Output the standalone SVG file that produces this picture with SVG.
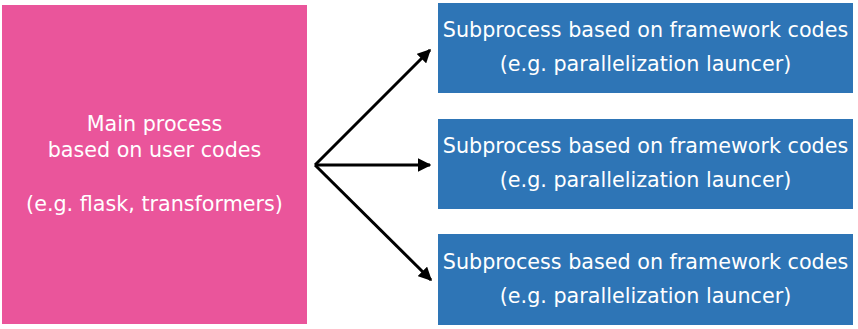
<svg xmlns="http://www.w3.org/2000/svg" width="858" height="329" viewBox="0 0 858 329">
<defs>
<style>
.main{fill:#EA559B}
.sub{fill:#2E75B6}
text{font-family:"DejaVu Sans","Open Sans",sans-serif;font-size:20.7px;fill:#FFFFFF;text-anchor:middle}
.conn{stroke:#000000;stroke-width:3;fill:none}
</style>
<marker id="arr" viewBox="0 0 10 10" refX="9" refY="5" markerWidth="4.5" markerHeight="4.5" markerUnits="strokeWidth" orient="auto">
<path d="M0,0 L10,5 L0,10 z" fill="#000000"/>
</marker>
</defs>
<rect width="858" height="329" fill="#FFFFFF"/>
<g id="main">
<rect class="main" x="2" y="5" width="305" height="319"/>
<text x="154.5" y="131">Main process</text>
<text x="154.5" y="157">based on user codes</text>
<text x="154.5" y="211">(e.g. flask, transformers)</text>
</g>
<g id="sub1">
<rect class="sub" x="438" y="3" width="415" height="90"/>
<text x="645.5" y="37">Subprocess based on framework codes</text>
<text x="645.5" y="71">(e.g. parallelization launcer)</text>
</g>
<g id="sub2">
<rect class="sub" x="438" y="119" width="415" height="90"/>
<text x="645.5" y="153">Subprocess based on framework codes</text>
<text x="645.5" y="187">(e.g. parallelization launcer)</text>
</g>
<g id="sub3">
<rect class="sub" x="438" y="234" width="415" height="91"/>
<text x="645.5" y="269">Subprocess based on framework codes</text>
<text x="645.5" y="303">(e.g. parallelization launcer)</text>
</g>
<g id="connectors">
<path class="conn" d="M315,165 L430,50" marker-end="url(#arr)"/>
<path class="conn" d="M315,165 L430,165" marker-end="url(#arr)"/>
<path class="conn" d="M315,165 L431,280" marker-end="url(#arr)"/>
</g>
</svg>
